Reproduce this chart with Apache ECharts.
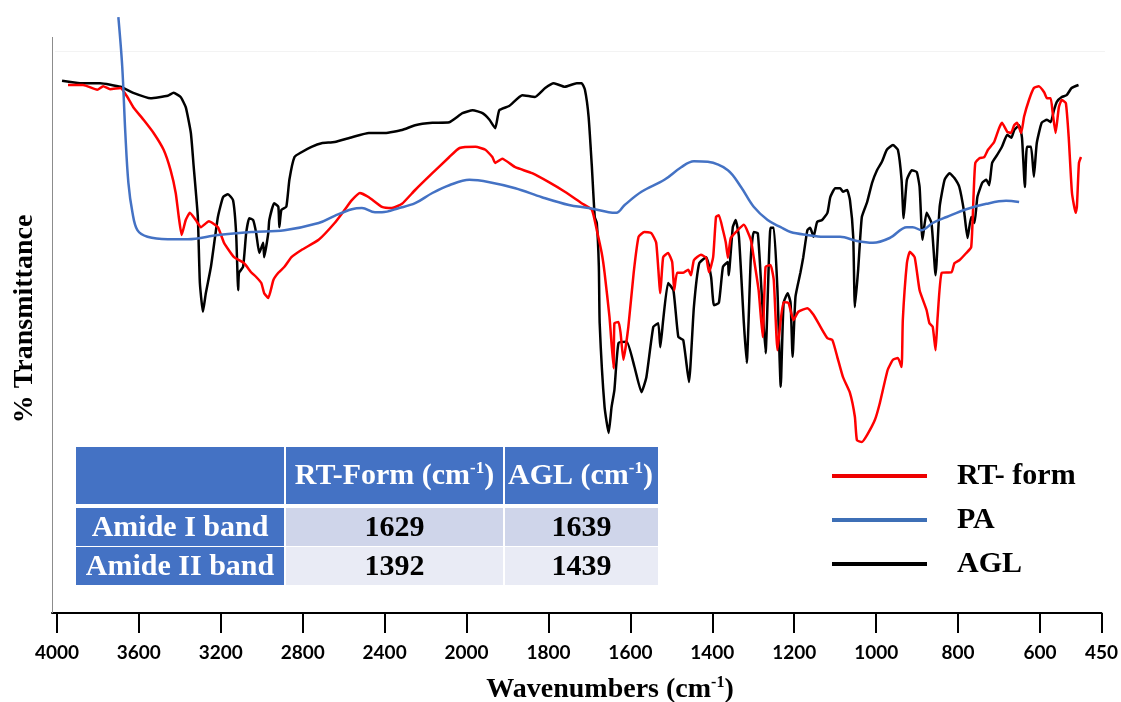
<!DOCTYPE html>
<html>
<head>
<meta charset="utf-8">
<title>FTIR spectra</title>
<script src="https://cdn.jsdelivr.net/npm/echarts@6/dist/echarts.min.js"></script>
<style>
  html, body { margin: 0; padding: 0; background: #ffffff; }
  #chart { width: 1121px; height: 702px; }
</style>
</head>
<body>
<div id="chart"></div>
<script>
// Wavenumber tick labels (cm-1); the scale halves its compression below 2000
const tickLabels = [4000, 3600, 3200, 2800, 2400, 2000, 1800, 1600, 1400, 1200, 1000, 800, 600, 450];

// Spectra as [wavenumber (cm-1), % transmittance] pairs
const aglSpectrum = [
  [3975,88.7],[3887,88.3],[3789,88.3],[3690,87.7],[3627,86.7],[3543,85.8],[3459,86.2],[3430,86.7],[3396,86.0],[3371,84.3],
  [3346,80.0],[3332,74.3],[3312,66.0],[3302,55.0],[3287,50.2],[3273,53.3],[3248,57.7],[3214,66.0],[3189,69.3],[3165,69.8],
  [3140,68.8],[3125,63.3],[3115,53.8],[3111,56.7],[3091,57.7],[3076,63.3],[3061,65.8],[3042,65.5],[3027,63.3],[3012,60.0],
  [2993,61.7],[2988,59.3],[2968,63.3],[2963,65.5],[2939,68.3],[2919,67.7],[2914,64.3],[2904,67.2],[2880,67.7],[2865,72.2],
  [2840,76.0],[2806,76.8],[2757,77.7],[2708,78.3],[2644,78.5],[2560,79.3],[2477,80.0],[2398,80.0],[2315,80.5],[2251,81.3],
  [2167,81.7],[2084,81.8],[2020,83.3],[1985,83.8],[1961,83.3],[1944,82.2],[1930,80.8],[1920,83.8],[1896,84.5],[1864,86.3],
  [1833,86.0],[1808,87.5],[1787,88.3],[1760,87.7],[1731,88.3],[1719,88.3],[1711,87.2],[1702,82.7],[1694,74.3],[1687,66.0],
  [1682,65.0],[1677,57.7],[1675,48.3],[1663,34.3],[1653,30.0],[1646,34.3],[1639,37.2],[1629,45.0],[1609,45.2],[1590,41.0],
  [1573,36.8],[1561,39.3],[1544,47.7],[1532,48.3],[1527,44.3],[1520,48.8],[1508,55.0],[1495,53.8],[1483,46.0],[1471,45.5],
  [1457,38.5],[1445,51.0],[1432,58.3],[1415,59.3],[1403,56.0],[1396,51.3],[1384,51.7],[1374,57.7],[1362,58.5],[1360,56.3],
  [1350,64.3],[1343,65.5],[1335,62.7],[1323,48.3],[1316,41.7],[1306,59.3],[1299,63.5],[1289,63.3],[1280,53.8],[1270,43.3],
  [1258,64.2],[1250,64.2],[1241,53.8],[1233,37.7],[1226,51.7],[1216,53.3],[1209,51.7],[1204,42.7],[1197,52.7],[1185,56.7],
  [1178,59.3],[1168,63.8],[1161,64.2],[1153,62.7],[1144,65.2],[1132,65.5],[1119,66.7],[1112,69.3],[1100,70.8],[1088,70.8],
  [1081,70.2],[1071,70.5],[1064,68.8],[1056,62.7],[1052,51.0],[1044,57.2],[1035,66.0],[1022,68.5],[1010,71.7],[998,73.8],
  [986,75.2],[974,77.2],[959,78.0],[947,77.2],[938,72.2],[933,65.8],[925,72.2],[913,73.8],[901,73.5],[894,71.0],
  [887,62.2],[877,66.7],[865,65.0],[855,56.3],[845,67.7],[833,72.2],[821,73.3],[809,72.5],[797,71.0],[785,66.7],
  [777,62.5],[768,66.0],[760,65.0],[753,69.3],[741,71.7],[731,72.2],[724,71.3],[717,75.0],[705,76.3],[693,77.7],
  [680,79.7],[670,79.2],[663,80.5],[651,81.3],[644,79.2],[637,71.0],[632,77.7],[622,77.7],[615,72.7],[608,78.3],
  [596,81.7],[583,82.2],[574,81.8],[566,83.8],[559,85.2],[547,86.0],[535,86.3],[523,87.5],[506,88.0]
];

const rtFormSpectrum = [
  [3946,88.0],[3872,88.0],[3803,87.2],[3774,87.8],[3740,87.3],[3690,87.5],[3656,86.0],[3627,84.3],[3577,82.2],[3528,80.0],
  [3479,77.2],[3445,73.8],[3420,70.0],[3405,66.0],[3391,63.0],[3371,65.5],[3351,66.7],[3322,65.5],[3297,64.3],[3258,65.3],
  [3214,64.3],[3184,61.7],[3135,59.3],[3086,58.3],[3052,56.8],[3027,56.0],[3002,55.0],[2988,53.3],[2968,52.5],[2943,55.5],
  [2919,56.7],[2889,57.7],[2855,59.3],[2806,60.5],[2722,62.2],[2644,65.0],[2595,67.2],[2560,68.8],[2521,70.0],[2477,69.3],
  [2413,67.7],[2364,67.5],[2315,68.2],[2251,70.5],[2167,73.3],[2084,76.0],[2034,77.5],[1978,77.7],[1954,77.2],[1937,76.0],
  [1930,75.0],[1913,75.7],[1881,74.3],[1840,73.3],[1799,71.8],[1760,70.2],[1719,68.3],[1694,67.2],[1682,63.8],[1670,60.0],
  [1663,56.7],[1651,49.3],[1641,40.8],[1639,48.3],[1629,48.5],[1624,46.7],[1617,42.2],[1605,47.7],[1592,56.7],[1580,62.7],
  [1566,63.5],[1549,63.3],[1537,61.7],[1527,53.3],[1520,59.3],[1508,60.0],[1498,58.5],[1493,53.8],[1486,56.7],[1471,56.7],
  [1459,57.2],[1452,56.3],[1445,58.8],[1428,59.7],[1415,59.2],[1408,56.8],[1398,59.3],[1391,66.0],[1384,66.3],[1374,63.8],
  [1367,61.7],[1362,59.2],[1355,62.5],[1338,63.8],[1323,64.7],[1306,62.2],[1299,59.3],[1287,53.8],[1277,46.0],[1270,57.7],
  [1258,58.0],[1250,55.5],[1241,43.8],[1233,48.8],[1226,51.8],[1214,51.7],[1202,48.8],[1190,50.2],[1168,50.8],[1153,49.7],
  [1136,47.7],[1119,45.8],[1107,45.5],[1095,42.7],[1081,39.3],[1064,36.7],[1052,32.7],[1047,28.8],[1035,28.5],[1022,29.7],
  [1003,32.2],[991,35.0],[972,40.5],[959,42.2],[947,42.5],[938,41.0],[935,48.8],[925,58.3],[918,60.2],[906,59.3],
  [894,53.8],[877,50.5],[870,48.3],[862,47.7],[855,43.8],[850,49.3],[840,56.7],[816,56.8],[809,58.3],[797,58.8],
  [780,60.0],[768,61.0],[762,70.0],[758,75.0],[748,75.8],[736,76.0],[727,77.2],[712,78.5],[700,80.8],[693,81.7],
  [680,80.2],[671,80.0],[663,81.3],[656,81.7],[646,80.0],[639,82.7],[627,85.5],[615,87.5],[603,87.8],[590,86.8],
  [583,85.8],[574,85.8],[569,83.3],[562,80.0],[554,84.3],[547,85.5],[537,85.0],[530,79.3],[522,70.0],[513,66.7],
  [510,67.7],[505,75.0],[500,76.0]
];

const paSpectrum = [
  [3700,99.3],[3681,91.0],[3666,80.0],[3651,71.7],[3631,66.7],[3607,63.8],[3558,62.7],[3459,62.3],[3361,62.3],[3214,63.0],
  [3052,63.5],[2889,63.8],[2722,65.0],[2644,66.2],[2560,67.3],[2511,67.5],[2447,66.8],[2413,66.8],[2329,67.5],[2251,68.3],
  [2167,70.0],[2084,71.3],[1993,72.2],[1944,71.8],[1881,70.8],[1816,69.3],[1750,68.0],[1702,67.5],[1653,66.8],[1634,66.7],
  [1614,68.0],[1573,70.2],[1517,72.2],[1476,74.3],[1445,75.3],[1411,75.2],[1362,73.8],[1330,71.0],[1299,67.7],[1265,65.5],
  [1233,64.3],[1209,63.5],[1168,63.0],[1129,62.7],[1088,62.7],[1047,62.0],[1008,61.7],[967,62.5],[925,64.3],[911,64.3],
  [889,63.8],[862,65.0],[828,66.0],[780,67.3],[731,68.2],[683,68.7],[651,68.5]
];

// Band assignment table
const tableHeaders = ['RT-Form', 'AGL'];
const bandNames = ['Amide I band', 'Amide II band'];
const rtFormBands = [1629, 1392];
const aglBands = [1639, 1439];

// Axis position: 400 cm-1 per unit above 2000, 200 cm-1 per unit below
function axisPos(w) {
  return w >= 2000 ? (4000 - w) / 400 : 5 + (2000 - w) / 200;
}
const tickPositions = tickLabels.map(axisPos);
const toSeries = spectrum => spectrum.map(([w, t]) => [axisPos(w), t]);

const SERIF = '"Liberation Serif", "Times New Roman", serif';
const SANS = 'Lato, "Open Sans", sans-serif';
const TABLE_BLUE = '#4472c4';
const TABLE_FONT = 30;

// Table geometry in pixels
const colX = [76, 286, 505, 658];
const rowY = [447, 508, 547, 585];
const headerBottom = 504;

function cellRect(x0, x1, y0, y1, fill) {
  return { type: 'rect', z: 10, shape: { x: x0, y: y0, width: x1 - x0, height: y1 - y0 }, style: { fill } };
}
function cellText(cx, cy, text, fill, rich) {
  const st = { text, x: cx, y: cy, align: 'center', verticalAlign: 'middle', fill,
    fontFamily: SERIF, fontWeight: 'bold', fontSize: TABLE_FONT };
  if (rich) st.rich = rich;
  return { type: 'text', z: 11, style: st };
}

const supRich = fill => ({
  b: { fontFamily: SERIF, fontWeight: 'bold', fontSize: TABLE_FONT, fill, lineHeight: 32 },
  s: { fontFamily: SERIF, fontWeight: 'bold', fontSize: 17, fill, verticalAlign: 'top', lineHeight: 32, padding: [0, 0, 10, 0] }
});

const tableGraphics = [];
// header row
tableGraphics.push(cellRect(colX[0], colX[1] - 2, rowY[0], headerBottom, TABLE_BLUE));
tableGraphics.push(cellRect(colX[1], colX[2] - 2, rowY[0], headerBottom, TABLE_BLUE));
tableGraphics.push(cellRect(colX[2], colX[3], rowY[0], headerBottom, TABLE_BLUE));
tableHeaders.forEach((h, i) => {
  const cx = (colX[i + 1] + colX[i + 2] - 2) / 2;
  tableGraphics.push(cellText(cx, (rowY[0] + headerBottom) / 2 + 1,
    '{b|' + h + ' (cm}{s|-1}{b|)}', '#ffffff', supRich('#ffffff')));
});
// body rows
const rowFills = ['#cfd5ea', '#e9ebf5'];
bandNames.forEach((name, r) => {
  const y0 = rowY[r + 1], y1 = rowY[r + 2] - (r === 0 ? 1 : 0);
  const cy = (y0 + y1) / 2 + 1;
  tableGraphics.push(cellRect(colX[0], colX[1] - 2, y0, y1, TABLE_BLUE));
  tableGraphics.push(cellRect(colX[1], colX[2] - 2, y0, y1, rowFills[r]));
  tableGraphics.push(cellRect(colX[2], colX[3], y0, y1, rowFills[r]));
  tableGraphics.push(cellText((colX[0] + colX[1] - 2) / 2, cy, name, '#ffffff'));
  tableGraphics.push(cellText((colX[1] + colX[2] - 2) / 2, cy, String(rtFormBands[r]), '#000000'));
  tableGraphics.push(cellText((colX[2] + colX[3]) / 2, cy, String(aglBands[r]), '#000000'));
});

const chart = echarts.init(document.getElementById('chart'), null, { renderer: 'canvas' });

chart.setOption({
  animation: false,
  backgroundColor: '#ffffff',
  grid: { left: 52, right: 18, top: 13, bottom: 89, containLabel: false },
  xAxis: {
    type: 'value',
    min: -0.06,
    max: 12.75,
    axisLine: { show: true, onZero: false, lineStyle: { color: '#000', width: 2 } },
    axisTick: { show: true, customValues: tickPositions, length: 20, lineStyle: { color: '#000', width: 2 } },
    axisLabel: {
      show: true,
      customValues: tickPositions,
      margin: 30,
      color: '#000',
      fontFamily: SANS,
      fontWeight: 'bold',
      fontSize: 19,
      formatter: v => {
        const i = tickPositions.findIndex(p => Math.abs(p - v) < 1e-6);
        return i >= 0 ? String(tickLabels[i]) : '';
      }
    },
    splitLine: { show: false }
  },
  yAxis: {
    type: 'value',
    min: 0,
    max: 100,
    axisLine: { show: false },
    axisTick: { show: false },
    axisLabel: { show: false },
    splitLine: { show: false }
  },
  legend: {
    data: ['RT- form', 'PA', 'AGL'],
    orient: 'vertical',
    left: 827,
    top: 456,
    itemWidth: 95,
    itemHeight: 4,
    itemGap: 14,
    icon: 'rect',
    selectedMode: false,
    textStyle: { fontFamily: SERIF, fontWeight: 'bold', fontSize: 30, color: '#000', padding: [0, 0, 0, 25] }
  },
  series: [
    {
      name: 'AGL', type: 'line', data: toSeries(aglSpectrum), showSymbol: false, symbol: 'none', smooth: 0.15,
      lineStyle: { color: '#000000', width: 2.5 }, itemStyle: { color: '#000000' }, z: 2
    },
    {
      name: 'RT- form', type: 'line', data: toSeries(rtFormSpectrum), showSymbol: false, symbol: 'none', smooth: 0.15,
      lineStyle: { color: '#ff0000', width: 2.5 }, itemStyle: { color: '#ee0000' }, z: 3
    },
    {
      name: 'PA', type: 'line', data: toSeries(paSpectrum), showSymbol: false, symbol: 'none', smooth: 0.35,
      lineStyle: { color: '#4472c4', width: 2.5 }, itemStyle: { color: '#3d6fb6' }, z: 4
    }
  ],
  graphic: [
    { type: 'line', z: 1, shape: { x1: 52.5, y1: 37, x2: 52.5, y2: 613 }, style: { stroke: '#8c8c8c', lineWidth: 1 } },
    { type: 'line', z: 1, shape: { x1: 55, y1: 51.5, x2: 1105, y2: 51.5 }, style: { stroke: '#f3f3f3', lineWidth: 1 } },
    {
      type: 'text', z: 11, x: 25, y: 319, rotation: Math.PI / 2,
      style: { text: '% Transmittance', align: 'center', verticalAlign: 'middle', fill: '#000',
        fontFamily: SERIF, fontWeight: 'bold', fontSize: 28 }
    },
    {
      type: 'text', z: 11,
      style: {
        text: '{a|Wavenumbers (cm}{s|-1}{a|)}', x: 610, y: 690, align: 'center', verticalAlign: 'middle',
        rich: {
          a: { fontFamily: SERIF, fontWeight: 'bold', fontSize: 28, fill: '#000', lineHeight: 30 },
          s: { fontFamily: SERIF, fontWeight: 'bold', fontSize: 16, fill: '#000', verticalAlign: 'top', lineHeight: 30, padding: [0, 0, 10, 0] }
        }
      }
    }
  ].concat(tableGraphics)
});
</script>
</body>
</html>
